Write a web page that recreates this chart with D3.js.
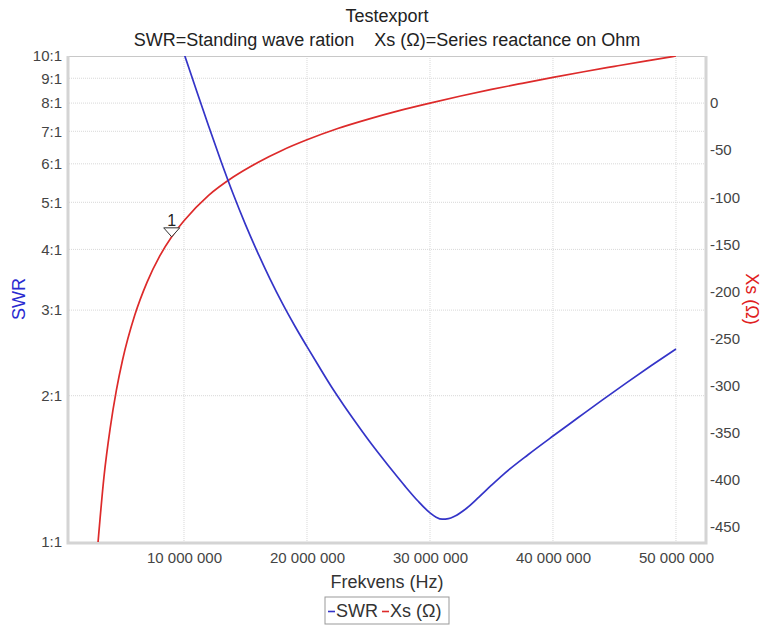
<!DOCTYPE html>
<html>

<head>
    <meta charset="utf-8">
    <title>Testexport</title>
    <script src="https://d3js.org/d3.v7.min.js"></script>
    <style>
        body {
            margin: 0;
            background: white;
        }

        text {
            font-family: "Liberation Sans", Arial, sans-serif;
        }

        .grid line {
            stroke: #d8d8d8;
            stroke-dasharray: 1, 1;
        }
    </style>
</head>

<body>
    <div id="chart"></div>

    <script>
        // SWR curve (frequency in MHz, SWR ratio)
        var swrFreq = [9, 10, 11, 12, 13, 14, 15, 16, 17, 18, 19, 20, 21, 22, 23, 24, 25, 26, 27, 28, 29, 30,
            30.5, 31, 31.5, 32, 33, 34, 35, 36, 38, 40, 42, 44, 46, 48, 50];
        var swrValues = [12.02, 10.12, 8.511, 7.178, 6.081, 5.200, 4.498, 3.936, 3.475, 3.097, 2.786, 2.523,
            2.291, 2.084, 1.910, 1.758, 1.622, 1.503, 1.396, 1.300, 1.216, 1.148,
            1.125, 1.114, 1.117, 1.130, 1.175, 1.239, 1.309, 1.380, 1.514, 1.652, 1.799, 1.959, 2.128, 2.307, 2.495];

        // Series reactance curve (frequency in MHz, Ohm)
        var xsFreq = [3, 3.5, 4, 4.5, 5, 6, 7, 8, 9, 10, 12, 14, 16, 18, 20,
            22.5, 25, 27.5, 30, 32.5, 35, 37.5, 40, 42.5, 45, 47.5, 50];
        var xsValues = [-468, -396, -345, -305, -273, -225, -190, -163, -142, -125, -98, -78.5, -63, -50, -39,
            -27, -17, -8, 0, 7.5, 14.5, 21, 27.3, 33.3, 39, 44.6, 50];

        // tick labels
        var swrTicks = [1, 2, 3, 4, 5, 6, 7, 8, 9, 10];
        var freqTicks = [10e6, 20e6, 30e6, 40e6, 50e6];
        var xsTicks = [0, -50, -100, -150, -200, -250, -300, -350, -400, -450];

        // marker 1 on the Xs curve
        var markerFreq = 9;
        var markerXs = -142;

        var width = 762, height = 626;
        var margin = { top: 56, right: 57, bottom: 84, left: 69 };

        var svg = d3.select("#chart")
            .append("svg")
            .attr("width", width)
            .attr("height", height);

        var x = d3.scaleLinear()
            .domain([0.65e6, 52.36e6])
            .range([margin.left, width - margin.right]);

        var ySwr = d3.scaleLog()
            .domain([1, 10])
            .range([height - margin.bottom, margin.top]);

        var yXs = d3.scaleLinear()
            .domain([-466, 50])
            .range([height - margin.bottom, margin.top]);

        var plotTop = margin.top, plotBottom = height - margin.bottom;
        var plotLeft = margin.left, plotRight = width - margin.right;
        var midX = (plotLeft + plotRight) / 2, midY = (plotTop + plotBottom) / 2;

        // Titles
        svg.append("text")
            .attr("x", midX).attr("y", 22)
            .attr("text-anchor", "middle")
            .style("font-size", "18px").style("fill", "#222")
            .text("Testexport");
        svg.append("text")
            .attr("x", midX).attr("y", 46)
            .attr("text-anchor", "middle")
            .style("font-size", "18px").style("fill", "#222")
            .style("white-space", "pre")
            .text("SWR=Standing wave ration    Xs (\u03A9)=Series reactance on Ohm");

        // Grid lines
        var grid = svg.append("g").attr("class", "grid");
        grid.selectAll(".hgrid").data(swrTicks.slice(1, -1)).enter()
            .append("line")
            .attr("x1", plotLeft).attr("x2", plotRight)
            .attr("y1", d => ySwr(d)).attr("y2", d => ySwr(d));
        grid.selectAll(".vgrid").data(freqTicks).enter()
            .append("line")
            .attr("x1", d => x(d)).attr("x2", d => x(d))
            .attr("y1", plotTop).attr("y2", plotBottom);

        // Plot frame
        svg.append("line")
            .attr("x1", plotLeft).attr("x2", plotRight)
            .attr("y1", plotTop + 0.5).attr("y2", plotTop + 0.5)
            .attr("stroke", "#c8c8c8");
        svg.append("path")
            .attr("d", "M" + (plotLeft - 1) + "," + plotTop + "V" + (plotBottom + 1) +
                "H" + (plotRight + 1) + "V" + plotTop)
            .attr("fill", "none")
            .attr("stroke", "#d4d4d4")
            .attr("stroke-width", 3);

        function styleTicks(g) {
            g.select(".domain").remove();
            g.selectAll("text")
                .style("font-size", "15px")
                .style("fill", "#444")
                .style("font-family", "'Liberation Sans', Arial, sans-serif");
        }

        // Left axis (SWR)
        svg.append("g")
            .attr("transform", "translate(" + (plotLeft - 3) + ",0)")
            .call(d3.axisLeft(ySwr).tickValues(swrTicks).tickSize(0).tickPadding(4)
                .tickFormat(d => d + ":1"))
            .call(styleTicks);

        // Right axis (Xs)
        svg.append("g")
            .attr("transform", "translate(" + (plotRight + 1) + ",0)")
            .call(d3.axisRight(yXs).tickValues(xsTicks).tickSize(0).tickPadding(4)
                .tickFormat(d => String(d)))
            .call(styleTicks);

        // Bottom axis (frequency)
        svg.append("g")
            .attr("transform", "translate(0," + plotBottom + ")")
            .call(d3.axisBottom(x).tickValues(freqTicks).tickSize(0).tickPadding(10)
                .tickFormat(d => d3.format(",")(d).replace(/,/g, " ")))
            .call(styleTicks);

        // Axis titles
        svg.append("text")
            .attr("x", midX).attr("y", 588)
            .attr("text-anchor", "middle")
            .style("font-size", "18px").style("fill", "#333")
            .text("Frekvens (Hz)");
        svg.append("text")
            .attr("transform", "translate(25," + midY + ") rotate(-90)")
            .attr("text-anchor", "middle")
            .style("font-size", "18px").style("fill", "#2a2ad0")
            .text("SWR");
        svg.append("text")
            .attr("transform", "translate(746," + midY + ") rotate(90)")
            .attr("text-anchor", "middle")
            .style("font-size", "18px").style("fill", "#e02020")
            .text("Xs (\u03A9)");

        // Clip curves to the plot area
        svg.append("clipPath").attr("id", "plotclip")
            .append("rect")
            .attr("x", plotLeft).attr("y", plotTop)
            .attr("width", plotRight - plotLeft).attr("height", plotBottom - plotTop);

        var swrLine = d3.line()
            .x(d => x(d[0] * 1e6)).y(d => ySwr(d[1]))
            .curve(d3.curveMonotoneX);
        var xsLine = d3.line()
            .x(d => x(d[0] * 1e6)).y(d => yXs(d[1]))
            .curve(d3.curveMonotoneX);

        var curves = svg.append("g").attr("clip-path", "url(#plotclip)");
        curves.append("path")
            .datum(xsFreq.map((f, i) => [f, xsValues[i]]))
            .attr("d", xsLine)
            .attr("fill", "none")
            .attr("stroke", "#dd2a2a")
            .attr("stroke-width", 1.7);
        curves.append("path")
            .datum(swrFreq.map((f, i) => [f, swrValues[i]]))
            .attr("d", swrLine)
            .attr("fill", "none")
            .attr("stroke", "#3434c8")
            .attr("stroke-width", 1.7);

        // Marker 1 (downward triangle, tip on the curve)
        var mx = x(markerFreq * 1e6), my = yXs(markerXs);
        svg.append("path")
            .attr("d", "M" + mx + "," + my + "L" + (mx - 8) + "," + (my - 9) +
                "L" + (mx + 8) + "," + (my - 9) + "Z")
            .attr("fill", "white")
            .attr("stroke", "#333")
            .attr("stroke-width", 1);
        svg.append("text")
            .attr("x", mx).attr("y", my - 11)
            .attr("text-anchor", "middle")
            .style("font-size", "16px").style("fill", "#222")
            .text("1");

        // Legend
        var legend = svg.append("g").attr("transform", "translate(325,597)");
        legend.append("rect")
            .attr("width", 124).attr("height", 27)
            .attr("fill", "white")
            .attr("stroke", "#999");
        var items = [
            { label: "SWR", color: "#3434c8", x: 3 },
            { label: "Xs (\u03A9)", color: "#dd2a2a", x: 57 }
        ];
        items.forEach(function (it) {
            legend.append("line")
                .attr("x1", it.x).attr("x2", it.x + 7)
                .attr("y1", 14.5).attr("y2", 14.5)
                .attr("stroke", it.color).attr("stroke-width", 1.6);
            legend.append("text")
                .attr("x", it.x + 8).attr("y", 20)
                .style("font-size", "18px").style("fill", "#333")
                .text(it.label);
        });
    </script>
</body>

</html>
